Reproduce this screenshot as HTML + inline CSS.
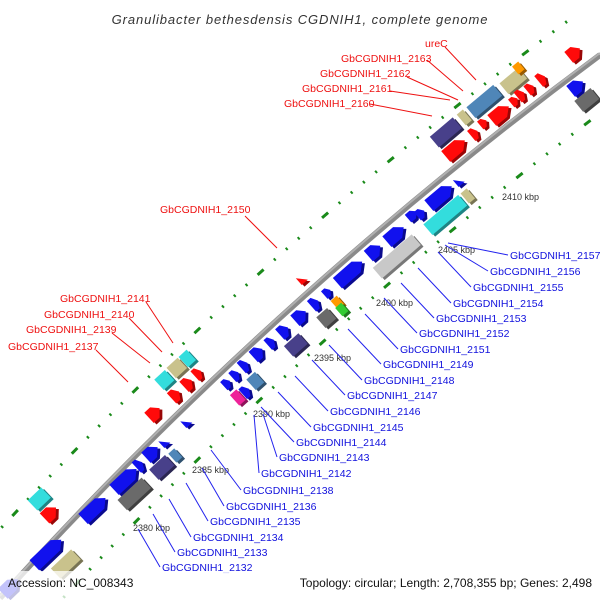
<!DOCTYPE html>
<html><head><meta charset="utf-8"><style>
html,body{margin:0;padding:0;background:#fff;width:600px;height:600px;overflow:hidden}
svg{display:block;overflow:hidden}
</style></head><body>
<svg id="s" width="600" height="600" viewBox="0 0 600 600" xmlns="http://www.w3.org/2000/svg" font-family="Liberation Sans, DejaVu Sans, sans-serif">
<defs><clipPath id="cp"><rect width="600" height="600"/></clipPath></defs>
<g clip-path="url(#cp)">
<rect width="600" height="600" fill="#fff"/>
<g fill="none" stroke="#1a8a1a" stroke-width="3">
<path d="M0,598 Q272,298 600,55" transform="translate(-31,-35)" stroke-dasharray="2 14 2 14 2 14 2 14 8 14"/>
<path d="M0,598 Q272,298 600,55" transform="translate(31,35)" stroke-dasharray="2 14 2 14 2 14 2 14 8 14"/>
</g>
<path d="M0,598 Q272,298 600,55" fill="none" stroke="#8a8a8a" stroke-width="6"/>
<path d="M0,596 Q272,296 600,53" fill="none" stroke="#b0b0b0" stroke-width="2"/>
<g id="genes"></g>
<g font-size="9" fill="#333">
<text x="502" y="200">2410 kbp</text>
<text x="438" y="253">2405 kbp</text>
<text x="376" y="306">2400 kbp</text>
<text x="314" y="361">2395 kbp</text>
<text x="253" y="417">2390 kbp</text>
<text x="192" y="473">2385 kbp</text>
<text x="133" y="531">2380 kbp</text>
</g>
<g id="lbl" font-size="10.5"></g>
<text x="300" y="24" text-anchor="middle" font-style="italic" font-size="13" fill="#333" letter-spacing="0.9">Granulibacter bethesdensis CGDNIH1, complete genome</text>
<rect x="0" y="571" width="600" height="29" fill="#fff" opacity="0.75"/>
<text x="8" y="587" font-size="12" fill="#111">Accession: NC_008343</text>
<text x="592" y="587" font-size="12" fill="#111" text-anchor="end">Topology: circular; Length: 2,708,355 bp; Genes: 2,498</text>
</g>
</svg>
<script>
var NS="http://www.w3.org/2000/svg";
var C={b:"#1111ee",r:"#ff0a0a",c:"#33dddd",k:"#c9c28c",s:"#4f86b8",d:"#48408a",g:"#6a6a6a",l:"#c8c8c8",o:"#ff9900",n:"#33cc33",m:"#ee2299"};
var G=[
[565,43,585,63,"r","a"],[567,76,588,97,"b","a"],[575,88,600,112,"g","r"],
[498,70,530,92,"k","r"],[513,63,525,73,"o","r"],[467,85,503,118,"s","r"],[457,110,473,125,"k","r"],[430,118,463,147,"d","r"],
[535,71,550,87,"r","a"],[525,82,537,95,"r","a"],[515,88,528,102,"r","a"],[510,95,520,107,"r","a"],[487,102,515,125,"r","a"],[478,118,490,128,"r","a"],[468,127,482,140,"r","a"],[442,135,470,162,"r","a"],
[454,175,465,187,"b","t"],[424,182,458,210,"b","a"],[462,189,475,203,"k","r"],[424,195,468,235,"c","r"],[408,205,418,225,"b","a"],[416,205,427,222,"b","a"],
[383,222,409,247,"b","a"],[365,240,385,262,"b","a"],[373,235,422,278,"l","r"],[333,257,368,288,"b","a"],
[323,285,333,300,"b","a"],[308,295,323,312,"b","a"],[332,297,344,308,"o","r"],[337,304,348,315,"n","r"],[317,308,337,328,"g","r"],
[292,305,310,327,"b","a"],[276,322,293,340,"b","a"],[285,333,308,357,"d","r"],[265,335,278,350,"b","a"],[250,343,267,363,"b","a"],
[238,358,252,373,"b","a"],[230,368,242,382,"b","a"],[222,377,233,390,"b","a"],[247,372,265,390,"s","r"],[240,383,253,400,"b","a"],[230,390,247,405,"m","r"],
[298,275,307,283,"r","t"],[182,417,192,427,"b","t"],
[145,403,165,423,"r","a"],[167,387,185,403,"r","a"],[180,375,197,392,"r","a"],[192,367,205,380,"r","a"],
[155,370,175,390,"c","r"],[167,358,188,378,"k","r"],[179,350,197,367,"c","r"],
[142,442,163,463,"b","a"],[160,437,170,447,"b","t"],[170,448,182,463,"s","r"],[150,455,175,480,"d","r"],
[133,458,147,472,"b","a"],[112,462,140,497,"b","a"],[118,478,152,510,"g","r"],[80,492,110,525,"b","a"],
[28,488,52,510,"c","r"],[40,503,62,523,"r","a"],[30,535,67,570,"b","a"],[53,548,80,580,"k","r"],[0,573,22,600,"b","a"]
];
function shade(h){var n=parseInt(h.slice(1),16),r=(n>>16)*0.6|0,g=((n>>8)&255)*0.6|0,b=(n&255)*0.6|0;return "rgb("+r+","+g+","+b+")";}
var gg=document.getElementById("genes");
G.forEach(function(e){
 var w=e[2]-e[0],h=e[3]-e[1],cx=(e[0]+e[2])/2,cy=(e[1]+e[3])/2;
 var T=Math.min(14,Math.max(10,Math.min(w,h)));if(e[5]=="t")T=9;var L=Math.max((w+h)/1.41-T,8);
 var ang=-44+5*(cx/600);var col=C[e[4]];
 var pts;
 if(e[5]=="a"){var hd=Math.min(L*0.45,8);pts=[[-L/2,-T/2],[L/2-hd,-T/2],[L/2,0],[L/2-hd,T/2],[-L/2,T/2]];}
 else if(e[5]=="t"){pts=[[-L/2,-T/2],[L/2,T/2],[-L/2,T/2]];}
 else pts=[[-L/2,-T/2],[L/2,-T/2],[L/2,T/2],[-L/2,T/2]];
 var s=pts.map(function(p){return p.join(",")}).join(" ");
 var g=document.createElementNS(NS,"g");g.setAttribute("transform","translate("+cx+","+cy+") rotate("+ang+")");
 var p2=document.createElementNS(NS,"polygon");p2.setAttribute("points",s);p2.setAttribute("fill",shade(col));p2.setAttribute("transform","translate(0.5,2.5)");
 var p1=document.createElementNS(NS,"polygon");p1.setAttribute("points",s);p1.setAttribute("fill",col);p1.setAttribute("transform","translate(-0.5,-0.5)");
 g.appendChild(p2);g.appendChild(p1);gg.appendChild(g);
});
var lg=document.getElementById("lbl");
function ln(x1,y1,x2,y2,c){var l=document.createElementNS(NS,"line");l.setAttribute("x1",x1);l.setAttribute("y1",y1);l.setAttribute("x2",x2);l.setAttribute("y2",y2);l.setAttribute("stroke",c);l.setAttribute("stroke-width","1");lg.appendChild(l);}
function tx(x,y,t,c){var e=document.createElementNS(NS,"text");e.setAttribute("x",x);e.setAttribute("y",y);e.setAttribute("fill",c);e.textContent=t;lg.appendChild(e);}
var B=[["2157",510,259],["2156",490,275],["2155",473,291],["2154",453,307],["2153",436,322],["2152",419,337],["2151",400,353],["2149",383,368],["2148",364,384],["2147",347,399],["2146",330,415],["2145",313,431],["2144",296,446],["2143",279,461],["2142",261,477],["2138",243,494],["2136",226,510],["2135",210,525],["2134",193,541],["2133",177,556],["2132",162,571]];
B.forEach(function(b){var dx=-33,dy=-35;if(b[0]=="2157"){dx=-60;dy=-12;}if(b[0]=="2156"){dx=-43;dy=-26;}if(b[0]=="2143"){dx=-14;dy=-43;}if(b[0]=="2142"){dx=-5;dy=-58;}if(b[0]=="2138"){dx=-30;dy=-40;}
 if(["2136","2135","2134","2133","2132"].indexOf(b[0])>=0){dx=-22;dy=-38;}
 ln(b[1]-2,b[2]-4,b[1]-2+dx,b[2]-4+dy,"#2222ee");tx(b[1],b[2],"GbCGDNIH1_"+b[0],"#1111dd");});
var R=[["ureC",425,47,445,47,476,80],["GbCGDNIH1_2163",341,62,427,60,463,91],["GbCGDNIH1_2162",320,77,407,77,458,100],["GbCGDNIH1_2161",302,92,390,91,450,100],["GbCGDNIH1_2160",284,107,370,104,432,116],["GbCGDNIH1_2150",160,213,245,216,277,248],["GbCGDNIH1_2141",60,302,146,302,173,343],["GbCGDNIH1_2140",44,318,129,318,162,352],["GbCGDNIH1_2139",26,333,112,333,150,363],["GbCGDNIH1_2137",8,350,96,350,128,382]];
R.forEach(function(r){tx(r[1],r[2],r[0],"#ee1111");ln(r[3],r[4],r[5],r[6],"#ee1111");});
</script>
</body></html>
